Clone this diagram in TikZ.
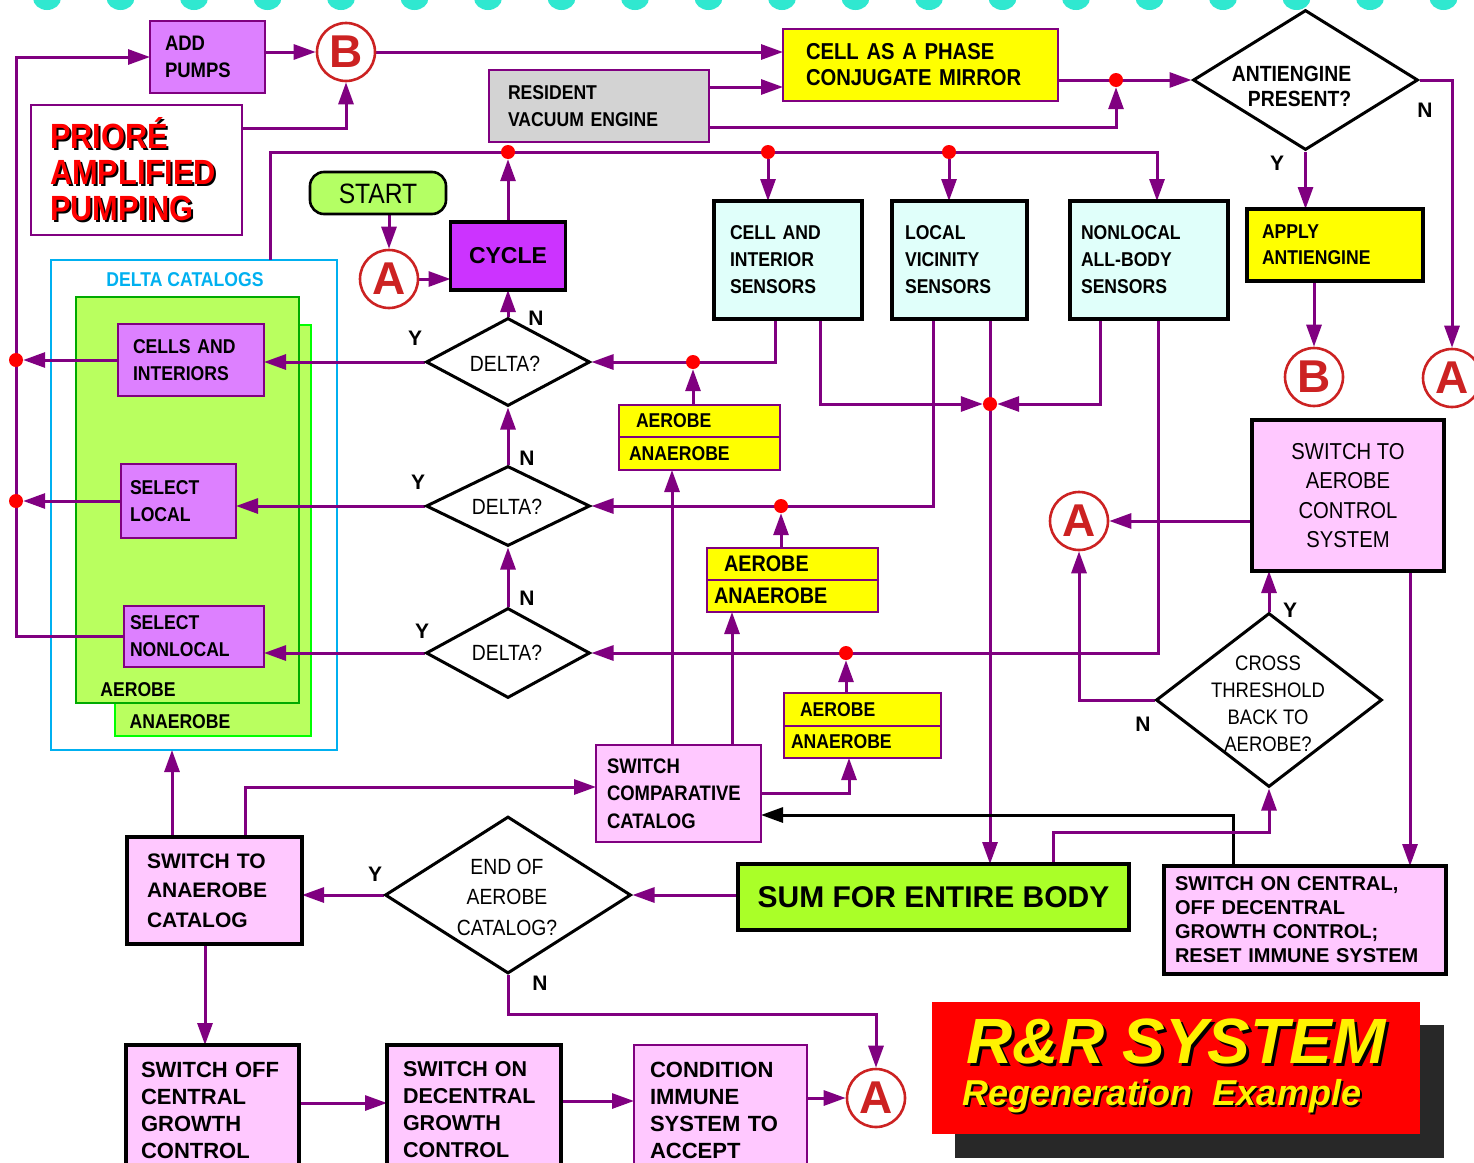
\documentclass[tikz,border=0pt]{standalone}
\usepackage{fontspec}
\setmainfont{Liberation Sans}
\newfontfamily\cnd{Liberation Sans}[FakeStretch=0.88]
\usetikzlibrary{arrows.meta,shapes.geometric}
\newcommand\fsz[2]{\fontsize{#1}{#2}\selectfont}
\newcommand\shd[2]{\makebox[0pt][l]{\kern#2\raisebox{-#2}{\color{black}#1}}#1}
\pgfdeclarelayer{back}\pgfdeclarelayer{mid}\pgfsetlayers{back,mid,main}
\definecolor{pur}{RGB}{128,0,128}
\definecolor{vio}{RGB}{221,128,255}
\definecolor{pnk}{RGB}{255,200,255}
\definecolor{yel}{RGB}{255,255,0}
\definecolor{cyl}{RGB}{224,255,250}
\definecolor{lgr}{RGB}{185,255,95}
\definecolor{sumg}{RGB}{170,255,40}
\definecolor{cyc}{RGB}{204,51,255}
\definecolor{gry}{RGB}{211,211,211}
\definecolor{cir}{RGB}{204,34,34}
\definecolor{dcb}{RGB}{0,176,240}
\definecolor{aerb}{RGB}{0,170,0}
\definecolor{anab}{RGB}{0,255,0}
\definecolor{turq}{RGB}{48,232,208}
\definecolor{stg}{RGB}{180,255,100}
\definecolor{shdw}{RGB}{40,40,40}
\tikzset{
 bx/.style={rectangle, align=left, inner ysep=0pt, text=black, outer sep=0pt},
 pb/.style={bx, draw=pur, line width=2.6pt},
 kb/.style={bx, draw=black, line width=3.4pt},
 ar/.style={draw=pur, line width=3pt, -{Triangle[length=22pt,width=15pt]}},
 blk/.style={draw=black, line width=3pt, -{Triangle[length=22pt,width=15pt]}},
 dot/.style={circle, fill=red, inner sep=0pt, minimum size=14pt},
 circ/.style={circle, draw=cir, line width=2.6pt, fill=white, minimum size=58pt, inner sep=0pt, text=cir, font=\bfseries\fsz{46}{46}},
 dia/.style={diamond, draw=black, line width=3pt, fill=white, inner sep=0pt},
 yn/.style={font=\bfseries\fsz{21}{21}, inner sep=0pt},
 cont/.style={line width=2.6pt, inner sep=0pt, outer sep=0pt},
}
\begin{document}
\begin{tikzpicture}[x=1pt,y=-1pt]
\useasboundingbox (0,0) rectangle (1474,1162);
\clip (0,0) rectangle (1474,1162);

\begin{pgfonlayer}{back}
\fill[white] (0,0) rectangle (1474,1162);
\foreach \i in {0,...,19}{\fill[turq] ({47+73.5*\i},-2) ellipse [x radius=14pt, y radius=12pt];}
\node[cont, draw=dcb, fill=white, minimum width=286pt, minimum height=490pt] (dcat) at (194,505) {};
\node[cont, draw=anab, fill=lgr, minimum width=196pt, minimum height=411pt] (ana) at (213,530.5) {};
\node[cont, draw=aerb, fill=lgr, minimum width=223pt, minimum height=406pt] (aer) at (187.5,500) {};
\node[fill=shdw, minimum width=489pt, minimum height=133pt, inner sep=0pt] (ttlsh) at (1199.5,1091.5) {};
\end{pgfonlayer}

% region labels
\node[text=dcb, font=\cnd\bfseries\fsz{20}{20}] (dcl) at (185,280) {DELTA CATALOGS};
\node[font=\cnd\bfseries\fsz{20}{20}] (aerl) at (138,690) {AEROBE};
\node[font=\cnd\bfseries\fsz{20}{20}] (anal) at (180,722) {ANAEROBE};

% top row
\node[pb, fill=vio, minimum width=115pt, minimum height=72pt, text width=85pt, inner xsep=15pt, font=\cnd\bfseries\fsz{21}{27}] (add) at (207.5,57) {ADD\\PUMPS};
\node[pb, fill=white, minimum width=211pt, minimum height=130pt, text width=173pt, inner xsep=19pt, text=red, font=\cnd\bfseries\fsz{35}{36}] (prio) at (136.5,170) {\shd{PRIORÉ}{2pt}\\\shd{AMPLIFIED}{2pt}\\\shd{PUMPING}{2pt}};
\node[circ] (B1) at (346,52) {B};
\node[pb, fill=gry, minimum width=220pt, minimum height=72pt, text width=182pt, inner xsep=19pt, font=\cnd\bfseries\fsz{20}{27}] (res) at (599,106) {RESIDENT\\VACUUM ENGINE};
\node[pb, fill=yel, minimum width=275pt, minimum height=72pt, text width=229pt, inner xsep=23pt, font=\cnd\bfseries\fsz{23}{26}] (cell) at (920.5,65) {CELL AS A PHASE\\CONJUGATE MIRROR};
\node[dia, minimum width=225pt, minimum height=140pt] (anti) at (1305.5,80) {};
\node[align=right, font=\cnd\bfseries\fsz{22}{25}] (antit) at (1291.5,86) {ANTIENGINE\\PRESENT?};
\node[kb, fill=yel, minimum width=176pt, minimum height=72pt, text width=146pt, inner xsep=15pt, font=\cnd\bfseries\fsz{20}{26}] (apply) at (1335,245) {APPLY\\ANTIENGINE};
\node[circ] (B2) at (1314,377) {B};
\node[circ] (A1) at (1452,378) {A};

% start / cycle
\node[draw=black, line width=2.6pt, fill=stg, rounded corners=14pt, minimum width=136pt, minimum height=42pt, inner sep=0pt, text height=21pt, text depth=0pt, font=\cnd\fsz{28}{28}] (start) at (378,193) {START};
\node[circ] (A0) at (389,279) {A};
\node[kb, fill=cyc, align=center, minimum width=115pt, minimum height=68pt, font=\bfseries\fsz{23}{23}] (cycle) at (508,256) {CYCLE};

% sensors
\node[kb, fill=cyl, minimum width=148pt, minimum height=118pt, text width=116pt, inner xsep=16pt, font=\cnd\bfseries\fsz{20}{27}] (sens1) at (788,260) {CELL AND\\INTERIOR\\SENSORS};
\node[kb, fill=cyl, minimum width=135pt, minimum height=118pt, text width=109pt, inner xsep=13pt, font=\cnd\bfseries\fsz{20}{27}] (sens2) at (959.5,260) {LOCAL\\VICINITY\\SENSORS};
\node[kb, fill=cyl, minimum width=158pt, minimum height=118pt, text width=136pt, inner xsep=11pt, font=\cnd\bfseries\fsz{20}{27}] (sens3) at (1149,260) {NONLOCAL\\ALL-BODY\\SENSORS};

% catalog boxes
\node[pb, fill=vio, minimum width=146pt, minimum height=72pt, text width=116pt, inner xsep=15pt, font=\cnd\bfseries\fsz{20}{27}] (cells) at (191,360) {CELLS AND\\INTERIORS};
\node[pb, fill=vio, minimum width=115pt, minimum height=74pt, text width=97pt, inner xsep=9pt, font=\cnd\bfseries\fsz{20}{27}] (sloc) at (178.5,501) {SELECT\\LOCAL};
\node[pb, fill=vio, minimum width=140pt, minimum height=61pt, text width=128pt, inner xsep=6pt, font=\cnd\bfseries\fsz{20}{27}] (snon) at (194,636.5) {SELECT\\NONLOCAL};

% delta diamonds
\node[dia, minimum width=164pt, minimum height=88pt] (d1) at (508,362) {};
\node[font=\cnd\fsz{22}{22}] (d1t) at (505,364) {DELTA?};
\node[dia, minimum width=164pt, minimum height=80pt] (d2) at (508,506) {};
\node[font=\cnd\fsz{22}{22}] (d2t) at (507,507) {DELTA?};
\node[dia, minimum width=164pt, minimum height=90pt] (d3) at (508,653) {};
\node[font=\cnd\fsz{22}{22}] (d3t) at (507,653) {DELTA?};

% yellow split boxes
\node[pb, fill=yel, minimum width=161pt, minimum height=32pt, text width=127pt, inner xsep=17pt, font=\cnd\bfseries\fsz{20}{20}] (y1t) at (699.5,421) {AEROBE};
\node[pb, fill=yel, minimum width=161pt, minimum height=33pt, text width=141pt, inner xsep=10pt, font=\cnd\bfseries\fsz{20}{20}] (y1b) at (699.5,453.5) {ANAEROBE};
\node[pb, fill=yel, minimum width=171pt, minimum height=32pt, text width=137pt, inner xsep=17pt, font=\cnd\bfseries\fsz{22.5}{22.5}] (y2t) at (792.5,564) {AEROBE};
\node[pb, fill=yel, minimum width=171pt, minimum height=32pt, text width=157pt, inner xsep=7pt, font=\cnd\bfseries\fsz{22.5}{22.5}] (y2b) at (792.5,596) {ANAEROBE};
\node[pb, fill=yel, minimum width=157pt, minimum height=33pt, text width=125pt, inner xsep=16pt, font=\cnd\bfseries\fsz{20}{20}] (y3t) at (862.5,709.5) {AEROBE};
\node[pb, fill=yel, minimum width=157pt, minimum height=32pt, text width=143pt, inner xsep=7pt, font=\cnd\bfseries\fsz{20}{20}] (y3b) at (862.5,742) {ANAEROBE};

% lower middle
\node[pb, fill=pnk, minimum width=165pt, minimum height=97pt, text width=143pt, inner xsep=11pt, font=\cnd\bfseries\fsz{21}{27.5}] (scc) at (678.5,793.5) {SWITCH\\COMPARATIVE\\CATALOG};
\node[kb, fill=sumg, align=center, minimum width=391pt, minimum height=66pt, font=\bfseries\fsz{30}{30}] (sum) at (933.5,897) {SUM FOR ENTIRE BODY};
\node[dia, minimum width=226pt, minimum height=174pt] (cross) at (1269,700) {};
\node[align=center, font=\cnd\fsz{21}{27}] (crosst) at (1268,704) {CROSS\\THRESHOLD\\BACK TO\\AEROBE?};
\node[circ] (A2) at (1079,521) {A};
\node[kb, fill=pnk, align=center, minimum width=192pt, minimum height=151pt, font=\cnd\fsz{23}{29.5}] (sac) at (1348,495.5) {SWITCH TO\\AEROBE\\CONTROL\\SYSTEM};
\node[kb, fill=pnk, minimum width=282pt, minimum height=108pt, text width=260pt, inner xsep=11pt, font=\bfseries\fsz{20}{24}] (soc) at (1305,920) {SWITCH ON CENTRAL,\\OFF DECENTRAL\\GROWTH CONTROL;\\RESET IMMUNE SYSTEM};
\node[dia, minimum width=246pt, minimum height=157pt] (endd) at (508,895) {};
\node[align=center, font=\cnd\fsz{22}{30.5}] (enddt) at (507,897) {END OF\\AEROBE\\CATALOG?};
\node[kb, fill=pnk, minimum width=175pt, minimum height=107pt, text width=135pt, inner xsep=20pt, font=\bfseries\fsz{21}{29.5}] (sta) at (214.5,890.5) {SWITCH TO\\ANAEROBE\\CATALOG};

% bottom row
\node[kb, fill=pnk, minimum width=173pt, minimum height=130pt, text width=143pt, inner xsep=15pt, font=\bfseries\fsz{22}{27}] (soff) at (212.5,1110) {SWITCH OFF\\CENTRAL\\GROWTH\\CONTROL};
\node[kb, fill=pnk, minimum width=174pt, minimum height=130pt, text width=142pt, inner xsep=16pt, font=\bfseries\fsz{21.5}{27}] (son) at (474,1110) {SWITCH ON\\DECENTRAL\\GROWTH\\CONTROL};
\node[pb, fill=pnk, minimum width=173pt, minimum height=130pt, text width=141pt, inner xsep=16pt, font=\bfseries\fsz{22}{27}] (cond) at (720.5,1110) {CONDITION\\IMMUNE\\SYSTEM TO\\ACCEPT};
\node[circ] (A3) at (876,1098) {A};

% title
\node[fill=red, minimum width=488pt, minimum height=132pt, inner sep=0pt] (ttl) at (1176,1068) {};
\node[text=yellow, font=\bfseries\itshape\fsz{64}{64}] (ttl1) at (1176,1043) {\shd{R\&R SYSTEM}{3pt}};
\node[text=yellow, font=\bfseries\itshape\fsz{36}{36}] (ttl2) at (1162,1097) {\shd{Regeneration\ \ Example}{2pt}};

% Y / N labels
\node[yn] (nA) at (1425,110) {N};
\node[yn] (yA) at (1277,163) {Y};
\node[yn] (y1l) at (415,338) {Y};
\node[yn] (n1l) at (536,318) {N};
\node[yn] (y2l) at (418,482) {Y};
\node[yn] (n2l) at (527,458) {N};
\node[yn] (y3l) at (422,631) {Y};
\node[yn] (n3l) at (527,598) {N};
\node[yn] (yC) at (1290,610) {Y};
\node[yn] (nC) at (1143,724) {N};
\node[yn] (yE) at (375,874) {Y};
\node[yn] (nE) at (540,983) {N};

% junction dots
\node[dot] (dotC) at (508,152) {};
\node[dot] (dotS1) at (768,152) {};
\node[dot] (dotS2) at (949,152) {};
\node[dot] (dotM) at (1116,80) {};
\node[dot] (dotL1) at (16,360) {};
\node[dot] (dotL2) at (16,501) {};
\node[dot] (dotY1) at (693,362) {};
\node[dot] (dotY2) at (781,506) {};
\node[dot] (dotY3) at (846,653) {};
\node[dot] (dotX) at (990,404) {};
\coordinate (tr) at (1157,152);

% ports
\coordinate (tlS) at ([xshift=219pt]dcat.north west);
\coordinate (prioP) at ([yshift=-23pt]prio.north east);
\coordinate (resP1) at ([yshift=-17pt]res.north east);
\coordinate (resP2) at ([yshift=-57pt]res.north east);
\coordinate (s1a) at ([xshift=61pt]sens1.south west);
\coordinate (s1b) at ([xshift=106pt]sens1.south west);
\coordinate (s2a) at ([xshift=41pt]sens2.south west);
\coordinate (s2b) at ([xshift=98pt]sens2.south west);
\coordinate (s3a) at ([xshift=30pt]sens3.south west);
\coordinate (s3b) at ([xshift=88pt]sens3.south west);
\coordinate (c1) at ([xshift=76pt]scc.north west);
\coordinate (c2) at ([xshift=136pt]scc.north west);
\coordinate (y3p) at ([xshift=65pt]y3b.south west);
\coordinate (sccE2) at ([yshift=-70pt]scc.north east);
\coordinate (sccW) at ([yshift=-42pt]scc.north west);
\coordinate (soc1) at ([xshift=69pt]soc.north west);
\coordinate (sum1) at ([xshift=315pt]sum.north west);
\coordinate (sacB) at ([xshift=-34pt]sac.south east);
\coordinate (sta1) at ([xshift=45pt]sta.north west);
\coordinate (sta2) at ([xshift=118pt]sta.north west);
\coordinate (sta3) at ([xshift=78pt]sta.south west);
\coordinate (soffE) at ([yshift=7pt]soff.east);
\coordinate (sonE) at ([yshift=9pt]son.east);

\begin{pgfonlayer}{mid}
% top part
\draw[ar] (add.east |- B1) -- (B1.west);
\draw[ar] (prioP) -| (B1.south);
\draw[ar] (snon.west) -- (snon.west -| dotL1) |- (add.west);
\draw[ar] (cells.west) -- (dotL1.east);
\draw[ar] (sloc.west) -- (dotL2.east);
\draw[ar] (B1.east) -- (B1.east -| cell.west);
\draw[ar] (resP1) -- (resP1 -| cell.west);
\draw[ar] (resP2) -| (dotM.south);
\draw[ar] (cell.east |- anti.west) -- (anti.west);
\draw[ar] (anti.east) -| (A1.north);
\draw[ar] (anti.south) -- (anti.south |- apply.north);
\draw[ar] (apply.south -| B2) -- (B2.north);
\draw[ar] (start.south -| A0) -- (A0.north);
\draw[ar] (A0.east) -- (A0.east -| cycle.west);
\draw[ar] (cycle.north) -- (dotC.south);
\draw[ar] (tlS) |- (tr) -- (tr |- sens3.north);
\draw[ar] (dotS1) -- (dotS1 |- sens1.north);
\draw[ar] (dotS2) -- (dotS2 |- sens2.north);
% delta chain
\draw[ar] (d1.north) -- (cycle.south);
\draw[ar] (d2.north) -- (d1.south);
\draw[ar] (d3.north) -- (d2.south);
\draw[ar] (d1.west) -- (d1.west -| cells.east);
\draw[ar] (d2.west) -- (d2.west -| sloc.east);
\draw[ar] (d3.west) -- (d3.west -| snon.east);
% sensors
\draw[ar] (s1a) |- (d1.east);
\draw[ar] (s2a) |- (d2.east);
\draw[ar] (s3b) |- (d3.east);
\draw[ar] (s1b) |- (dotX.west);
\draw[ar] (s3a) |- (dotX.east);
\draw[ar] (s2b) -- (s2b |- sum.north);
\draw[ar] (dotY1 |- y1t.north) -- (dotY1.south);
\draw[ar] (dotY2 |- y2t.north) -- (dotY2.south);
\draw[ar] (dotY3 |- y3t.north) -- (dotY3.south);
% switch comparative
\draw[ar] (c1) -- (c1 |- y1b.south);
\draw[ar] (c2) -- (c2 |- y2b.south);
\draw[ar] (scc.east) -| (y3p);
\draw[blk] (soc1) |- (sccE2);
% right side
\draw[ar] (sum1) -- ++(0,-32) -| (cross.south);
\draw[ar] (cross.north) -- (cross.north |- sac.south);
\draw[ar] (cross.west) -| (A2.south);
\draw[ar] (sac.west |- A2) -- (A2.east);
\draw[ar] (sacB) -- (sacB |- soc.north);
% lower left
\draw[ar] (sum.west |- endd.east) -- (endd.east);
\draw[ar] (endd.west) -- (endd.west -| sta.east);
\draw[ar] (endd.south) -- ++(0,39) -| (A3.north);
\draw[ar] (sta1) -- (sta1 |- dcat.south);
\draw[ar] (sta2) |- (sccW);
\draw[ar] (sta3) -- (sta3 |- soff.north);
\draw[ar] (soffE) -- (soffE -| son.west);
\draw[ar] (sonE) -- (sonE -| cond.west);
\draw[ar] (cond.east |- A3) -- (A3.west);
\end{pgfonlayer}
\end{tikzpicture}
\end{document}
